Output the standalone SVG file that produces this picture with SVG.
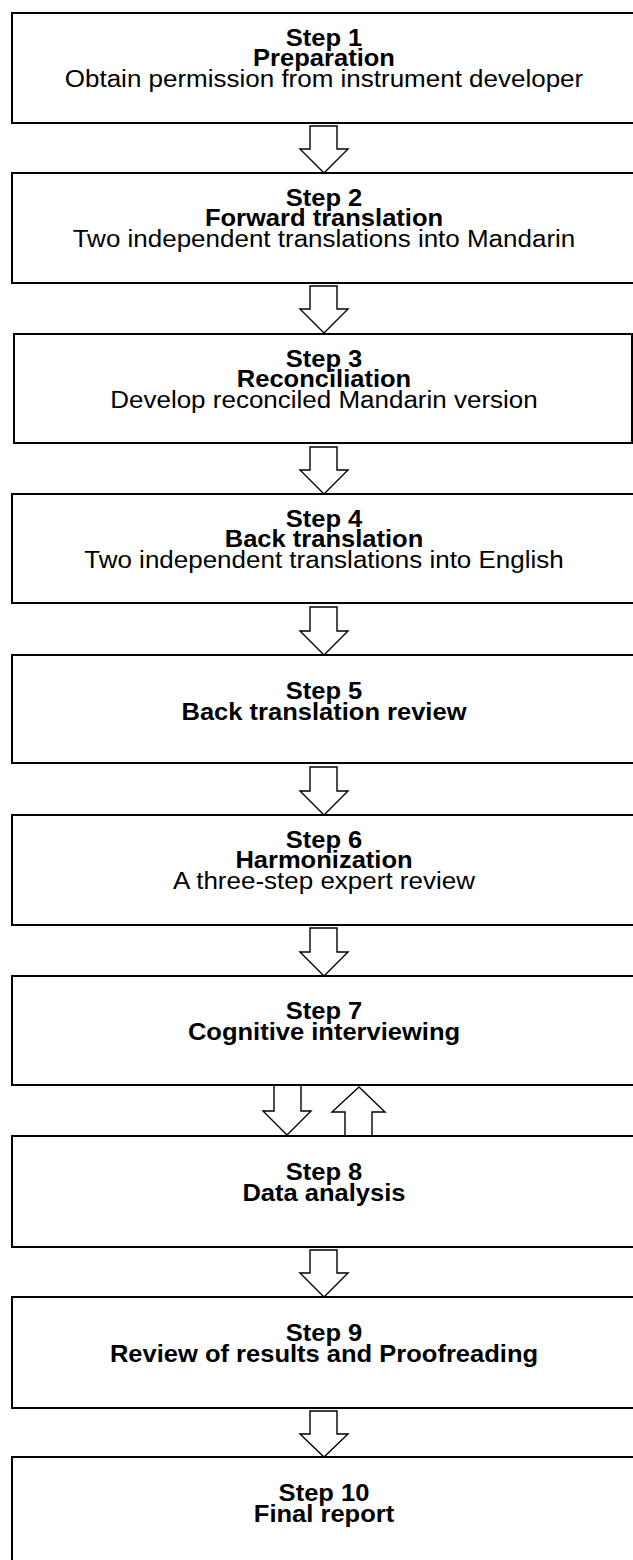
<svg xmlns="http://www.w3.org/2000/svg" width="633" height="1560" viewBox="0 0 633 1560">
<style>
.box{fill:#fff;stroke:#000;stroke-width:2}
.arr{fill:#fff;stroke:#000;stroke-width:1.4;stroke-linejoin:miter}
text{font-family:"Liberation Sans",Arial,sans-serif;text-anchor:middle;fill:#000}
.b{font-weight:bold;font-size:23px}
.r{font-size:23px}
</style>
<rect width="633" height="1560" fill="#fff"/>
<g id="connectors">
<polygon class="arr" points="310,126 337,126 337,149 348,149 324,173 300,149 310,149"/>
<polygon class="arr" points="310,286 337,286 337,309 348,309 324,333 300,309 310,309"/>
<polygon class="arr" points="310,447 337,447 337,470 348,470 324,494 300,470 310,470"/>
<polygon class="arr" points="310,607 337,607 337,631 348,631 324,655 300,631 310,631"/>
<polygon class="arr" points="310,767 337,767 337,791 348,791 324,815 300,791 310,791"/>
<polygon class="arr" points="310,928 337,928 337,952 348,952 324,976 300,952 310,952"/>
<polygon class="arr" points="274,1085 301,1085 301,1111 311,1111 287,1135 263,1111 274,1111"/>
<polygon class="arr" points="359,1087 385,1112 372,1112 372,1136 345,1136 345,1112 332,1112"/>
<polygon class="arr" points="310,1250 337,1250 337,1273 348,1273 324,1297 300,1273 310,1273"/>
<polygon class="arr" points="310,1411 337,1411 337,1434 348,1434 324,1457 300,1434 310,1434"/>
</g>
<g id="step1"><rect class="box" x="12" y="13" width="630" height="110"/>
<g transform="matrix(1.11 0 0 1 -35.64 0)"><text class="b" x="324" y="46">Step 1</text><text class="b" x="324" y="66">Preparation</text></g>
<g transform="matrix(1.13 0 0 1 -42.12 0)"><text class="r" x="324" y="87">Obtain permission from instrument developer</text></g></g>
<g id="step2"><rect class="box" x="12" y="173" width="630" height="110"/>
<g transform="matrix(1.11 0 0 1 -35.64 0)"><text class="b" x="324" y="206">Step 2</text><text class="b" x="324" y="226">Forward translation</text></g>
<g transform="matrix(1.13 0 0 1 -42.12 0)"><text class="r" x="324" y="247">Two independent translations into Mandarin</text></g></g>
<g id="step3"><rect class="box" x="14" y="334" width="618" height="109"/>
<g transform="matrix(1.11 0 0 1 -35.64 0)"><text class="b" x="324" y="367">Step 3</text><text class="b" x="324" y="387">Reconciliation</text></g>
<g transform="matrix(1.13 0 0 1 -42.12 0)"><text class="r" x="324" y="408">Develop reconciled Mandarin version</text></g></g>
<g id="step4"><rect class="box" x="12" y="494" width="630" height="109"/>
<g transform="matrix(1.11 0 0 1 -35.64 0)"><text class="b" x="324" y="527">Step 4</text><text class="b" x="324" y="547">Back translation</text></g>
<g transform="matrix(1.13 0 0 1 -42.12 0)"><text class="r" x="324" y="568">Two independent translations into English</text></g></g>
<g id="step5"><rect class="box" x="12" y="655" width="630" height="108"/>
<g transform="matrix(1.11 0 0 1 -35.64 0)"><text class="b" x="324" y="699">Step 5</text><text class="b" x="324" y="720">Back translation review</text></g></g>
<g id="step6"><rect class="box" x="12" y="815" width="630" height="110"/>
<g transform="matrix(1.11 0 0 1 -35.64 0)"><text class="b" x="324" y="848">Step 6</text><text class="b" x="324" y="868">Harmonization</text></g>
<g transform="matrix(1.13 0 0 1 -42.12 0)"><text class="r" x="324" y="889">A three-step expert review</text></g></g>
<g id="step7"><rect class="box" x="12" y="976" width="630" height="109"/>
<g transform="matrix(1.11 0 0 1 -35.64 0)"><text class="b" x="324" y="1019">Step 7</text><text class="b" x="324" y="1040">Cognitive interviewing</text></g></g>
<g id="step8"><rect class="box" x="12" y="1136" width="630" height="111"/>
<g transform="matrix(1.11 0 0 1 -35.64 0)"><text class="b" x="324" y="1180">Step 8</text><text class="b" x="324" y="1201">Data analysis</text></g></g>
<g id="step9"><rect class="box" x="12" y="1297" width="630" height="111"/>
<g transform="matrix(1.11 0 0 1 -35.64 0)"><text class="b" x="324" y="1341">Step 9</text><text class="b" x="324" y="1362">Review of results and Proofreading</text></g></g>
<g id="step10"><rect class="box" x="12" y="1457" width="630" height="120"/>
<g transform="matrix(1.11 0 0 1 -35.64 0)"><text class="b" x="324" y="1501">Step 10</text><text class="b" x="324" y="1522">Final report</text></g></g>
</svg>
